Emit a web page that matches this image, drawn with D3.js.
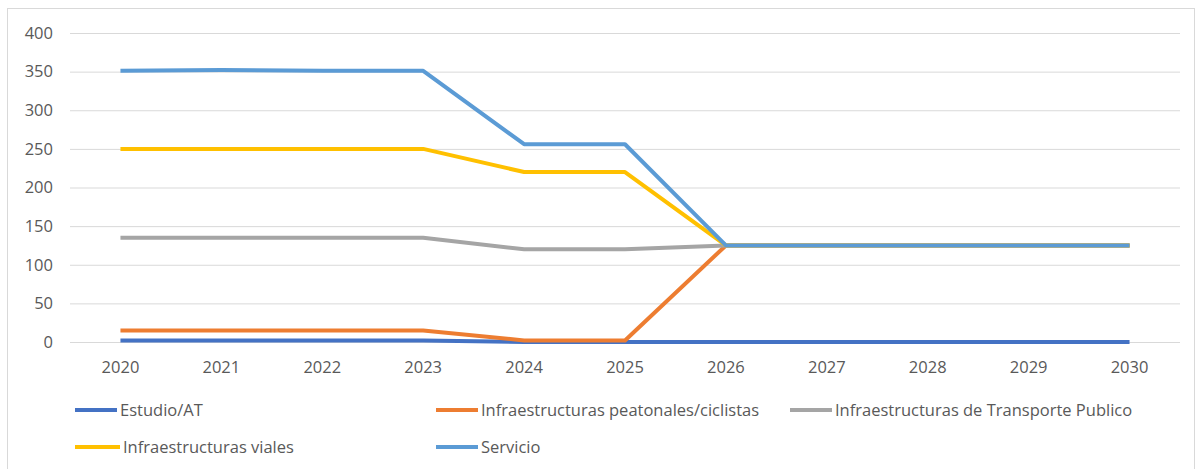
<!DOCTYPE html>
<html>
<head>
<meta charset="utf-8">
<script src="https://cdn.jsdelivr.net/npm/d3@7"></script>
<style>
  body { margin: 0; background: #fff; }
  svg { font-family: "Open Sans", "Noto Sans", sans-serif; }
</style>
</head>
<body>
<div id="chart"></div>
<script>
const years = ['2020','2021','2022','2023','2024','2025','2026','2027','2028','2029','2030'];
const yTicks = [0, 50, 100, 150, 200, 250, 300, 350, 400];

const estudio     = [2, 2, 2, 2, 0, 0, 0, 0, 0, 0, 0];
const peatonales  = [15, 15, 15, 15, 2, 2, 125, 125, 125, 125, 125];
const transporte  = [135, 135, 135, 135, 120, 120, 125, 125, 125, 125, 125];
const viales      = [250, 250, 250, 250, 220, 220, 125, 125, 125, 125, 125];
const servicio    = [351, 352, 351, 351, 256, 256, 125, 125, 125, 125, 125];

const seriesNames = ['Estudio/AT', 'Infraestructuras peatonales/ciclistas',
  'Infraestructuras de Transporte Publico', 'Infraestructuras viales', 'Servicio'];
const seriesColors = ['#4472C4', '#ED7D31', '#A5A5A5', '#FFC000', '#5B9BD5'];
const seriesValues = [estudio, peatonales, transporte, viales, servicio];

const width = 1203;
const height = 469;
const plotLeft = 70, plotRight = 1180, plotTop = 33, plotBottom = 342;
const fontSize = 16.5;

const svg = d3.select('#chart').append('svg')
  .attr('width', width).attr('height', height);

svg.append('rect')
  .attr('x', 7.5).attr('y', 8.5)
  .attr('width', 1187).attr('height', 470)
  .attr('fill', '#fff').attr('stroke', '#d9d9d9');

const x = d3.scaleBand().domain(years).range([plotLeft, plotRight]);
const y = d3.scaleLinear().domain([0, 400]).range([plotBottom, plotTop]);

// gridlines
svg.append('g')
  .selectAll('line')
  .data(yTicks)
  .join('line')
  .attr('x1', plotLeft).attr('x2', plotRight)
  .attr('y1', d => y(d) + 0.5).attr('y2', d => y(d) + 0.5)
  .attr('stroke', '#d9d9d9').attr('stroke-width', 1);

// y labels
const yAxis = svg.append('g')
  .attr('transform', `translate(53,0)`)
  .call(d3.axisLeft(y).tickValues(yTicks).tickSize(0).tickPadding(0));
yAxis.select('.domain').remove();
yAxis.selectAll('text')
  .attr('fill', '#595959').attr('font-size', fontSize)
  .attr('font-family', '"Open Sans", "Noto Sans", sans-serif');

// x labels
const xAxis = svg.append('g')
  .attr('transform', `translate(0,361)`)
  .call(d3.axisBottom(x).tickSize(0).tickPadding(0));
xAxis.select('.domain').remove();
xAxis.selectAll('text')
  .attr('fill', '#595959').attr('font-size', fontSize)
  .attr('font-family', '"Open Sans", "Noto Sans", sans-serif');

const line = d3.line()
  .x((d, i) => x(years[i]) + x.bandwidth() / 2)
  .y(d => y(d));

svg.append('g')
  .selectAll('path')
  .data(seriesValues)
  .join('path')
  .attr('fill', 'none')
  .attr('stroke', (d, i) => seriesColors[i])
  .attr('stroke-width', 4)
  .attr('stroke-linejoin', 'round')
  .attr('d', line);

// legend
const legendPos = [[75, 410], [436, 410], [790, 410], [75, 447], [436, 447]];
const legend = svg.append('g')
  .selectAll('g')
  .data(seriesNames)
  .join('g')
  .attr('transform', (d, i) => `translate(${legendPos[i][0]},${legendPos[i][1]})`);
legend.append('line')
  .attr('x1', 0).attr('x2', (d, i) => i == 3 ? 45 : 42)
  .attr('stroke', (d, i) => seriesColors[i])
  .attr('stroke-width', 4);
legend.append('text')
  .attr('x', (d, i) => i == 3 ? 48 : 45)
  .attr('dy', '0.35em')
  .attr('fill', '#595959').attr('font-size', fontSize)
  .text(d => d);
</script>
</body>
</html>
